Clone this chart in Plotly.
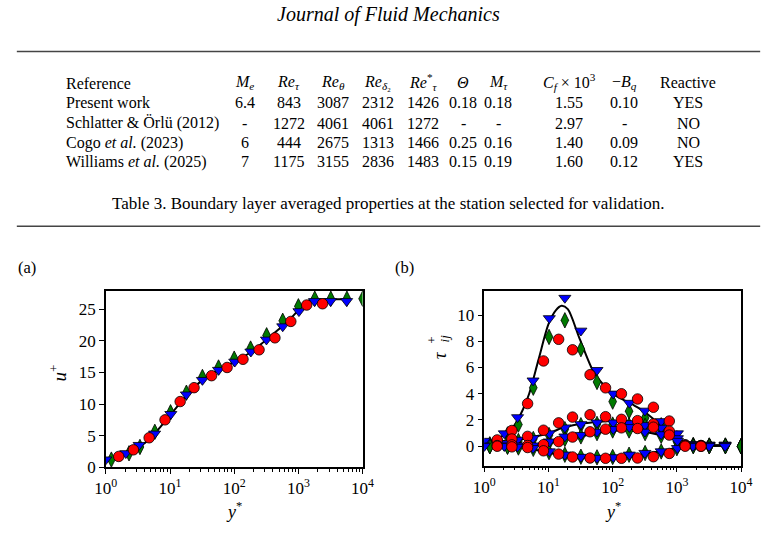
import plotly.graph_objects as go

W, H = 778, 539
FONT = "Liberation Serif"

# ---------------- table data ----------------
header = ["Reference", "<i>M<sub>e</sub></i>", "<i>Re</i><sub><i>τ</i></sub>", "<i>Re</i><sub><i>θ</i></sub>",
          "<i>Re</i><sub><i>δ</i>₂</sub>", "<i>Re</i><sup>*</sup><sub><i>τ</i></sub>", "<i>Θ</i>",
          "<i>M</i><sub><i>τ</i></sub>", "<i>C<sub>f</sub></i> × 10<sup>3</sup>", "−<i>B<sub>q</sub></i>", "Reactive"]
references = ["Present work", "Schlatter &amp; Örlü (2012)", "Cogo <i>et al.</i> (2023)", "Williams <i>et al.</i> (2025)"]
Me = ["6.4", "-", "6", "7"]
Re_tau = ["843", "1272", "444", "1175"]
Re_theta = ["3087", "4061", "2675", "3155"]
Re_delta2 = ["2312", "4061", "1313", "2836"]
Re_tau_star = ["1426", "1272", "1466", "1483"]
Theta = ["0.18", "-", "0.25", "0.15"]
M_tau = ["0.18", "-", "0.16", "0.19"]
Cf = ["1.55", "2.97", "1.40", "1.60"]
Bq = ["0.10", "-", "0.09", "0.12"]
Reactive = ["YES", "NO", "NO", "YES"]

# ---------------- panel (a) data ----------------
line_a_y = [1, 1.5, 2, 3, 4, 5, 7, 10, 15, 20, 30, 50, 70, 100, 150, 200, 300, 500, 700, 1000, 1300, 1700, 2500, 6500]
line_a_u = [1.0, 1.5, 2.0, 2.9, 3.8, 4.6, 6.3, 8.2, 10.4, 11.8, 13.6, 15.1, 15.9, 16.7, 17.7, 18.5, 20.0, 21.9, 23.2, 24.9, 26.1, 26.6, 26.6, 26.6]

red_y = [1.59, 2.69, 4.73, 8.36, 14.4, 23.7, 44.4, 77.5, 137, 244, 431, 762, 1346, 2376]
red_u = [1.7, 2.75, 4.66, 7.5, 10.4, 12.6, 14.5, 15.8, 17.1, 18.6, 20.5, 23.1, 25.7, 25.9]

green_y = [1.22, 2.3, 3.4, 5.8, 10.2, 18, 32, 57, 100, 180, 320, 570, 1000, 1800, 3200, 5700, 10000]
green_u = [1.2, 2.2, 3.2, 5.6, 8.7, 11.8, 14.3, 15.8, 17.2, 18.8, 20.9, 23.2, 25.5, 26.7, 26.7, 26.7, 26.7]

blue_y = [1, 2.05, 3.3, 5.75, 10.3, 18, 32, 57, 102, 182, 318, 570, 1020, 1780, 3170, 5640]
blue_u = [1.2, 2.2, 3.5, 5.3, 8.4, 11.5, 13.8, 15.4, 16.7, 18.3, 20.2, 22.3, 24.7, 26.3, 26.3, 26.3]

# ---------------- panel (b) data ----------------
line_b_y = [1, 1.5, 2, 3, 4, 5, 7, 10, 13, 16, 20, 30, 50, 70, 100, 200, 300, 500, 700, 1000, 1300, 1600, 2000, 6000]
line_t11 = [0.15, 0.45, 0.85, 1.65, 2.8, 4.0, 6.6, 9.3, 10.35, 10.7, 10.45, 8.3, 5.7, 4.75, 4.0, 3.2, 2.7, 1.8, 1.25, 0.65, 0.22, 0.08, 0.05, 0.05]
line_t22 = [0.35, 0.37, 0.4, 0.47, 0.55, 0.62, 0.8, 0.97, 1.2, 1.38, 1.5, 1.7, 1.82, 1.88, 1.93, 1.83, 1.65, 1.3, 1.0, 0.6, 0.2, 0.08, 0.05, 0.05]
line_t33 = [0.05, 0.05, 0.04, 0.03, 0.03, 0.04, 0.08, 0.22, 0.35, 0.45, 0.55, 0.72, 0.95, 1.08, 1.18, 1.17, 1.1, 0.9, 0.68, 0.45, 0.15, 0.07, 0.05, 0.05]
line_t12 = [0.0, 0.0, 0.0, -0.04, -0.1, -0.17, -0.32, -0.5, -0.6, -0.68, -0.74, -0.84, -0.9, -0.91, -0.9, -0.8, -0.6, -0.42, -0.3, -0.1, 0.0, 0.02, 0.03, 0.05]

red_t11 = [0.4, 1.2, 3.25, 6.5, 8.15, 7.35, 5.45, 4.45, 4.0, 3.6, 2.97, 1.92, 0.1, 0.05]
red_t22 = [0.48, 0.55, 0.75, 1.22, 1.78, 2.22, 2.4, 2.25, 2.05, 1.95, 1.7, 1.15, 0.1, 0.05]
red_t33 = [0.05, 0.1, 0.05, 0.12, 0.35, 0.7, 1.1, 1.3, 1.4, 1.35, 1.45, 0.85, 0.05, 0.0]
red_t12 = [0.0, -0.05, -0.1, -0.35, -0.6, -0.82, -0.9, -0.92, -0.92, -0.9, -0.8, -0.55, 0.0, 0.0]

green_t11 = [0.1, 0.9, 1.65, 4.46, 8.33, 9.6, 7.4, 4.9, 3.4, 2.67, 2.15, 1.6, 0.6, 0.1, 0.05, 0.05, 0.0]
green_t22 = [0.15, 0.3, 0.4, 0.55, 0.85, 1.3, 1.6, 1.7, 1.65, 1.6, 1.55, 1.3, 0.5, 0.05, 0.05, 0.05, 0.0]
green_t33 = [0.0, 0.0, 0.0, 0.0, 0.25, 0.55, 0.75, 1.0, 1.2, 1.2, 1.0, 0.8, 0.35, 0.05, 0.0, 0.0, 0.0]
green_t12 = [0.0, -0.05, -0.1, -0.2, -0.45, -0.65, -0.8, -0.85, -0.82, -0.65, -0.52, -0.4, -0.15, 0.0, 0.0, 0.0, 0.0]

blue_t11 = [0.3, 0.97, 2.2, 5.0, 9.75, 11.3, 8.8, 5.8, 4.0, 3.3, 2.7, 1.9, 0.97, 0.15, 0.1, 0.1]
blue_t22 = [0.4, 0.22, 0.48, 0.6, 0.97, 1.42, 1.67, 1.8, 1.8, 1.75, 1.6, 1.4, 0.6, 0.1, 0.1, 0.1]
blue_t33 = [0.05, 0.05, 0.05, 0.05, 0.35, 0.73, 0.85, 1.1, 1.3, 1.45, 1.1, 0.9, 0.4, 0.05, 0.05, 0.05]
blue_t12 = [0.0, 0.0, -0.05, -0.15, -0.4, -0.65, -0.82, -0.9, -0.85, -0.65, -0.52, -0.4, -0.15, 0.0, 0.0, 0.0]

x_tickvals = [1, 10, 100, 1000, 10000]
x_ticktext = ["10<sup>0</sup>", "10<sup>1</sup>", "10<sup>2</sup>", "10<sup>3</sup>", "10<sup>4</sup>"]
ya_tickvals = [0, 5, 10, 15, 20, 25]
yb_tickvals = [0, 2, 4, 6, 8, 10]


def px(x):
    return x / W


def py(y):
    return 1 - y / H


fig = go.Figure()

LINE = dict(color="black", width=2, shape="spline", smoothing=0.8)
RED = dict(symbol="circle", size=10.5, color="#ff0000", line=dict(color="black", width=0.8))
GREEN = dict(symbol="diamond-tall", size=11, color="#007a00", line=dict(color="black", width=0.8))
BLUE = dict(symbol="triangle-down", size=10.5, color="#0000ff", line=dict(color="black", width=0.8))

# panel (a)
fig.add_trace(go.Scatter(x=line_a_y, y=line_a_u, mode="lines", line=LINE, xaxis="x", yaxis="y"))
fig.add_trace(go.Scatter(x=green_y, y=green_u, mode="markers", marker=GREEN, xaxis="x", yaxis="y"))
fig.add_trace(go.Scatter(x=blue_y, y=blue_u, mode="markers", marker=BLUE, xaxis="x", yaxis="y"))
fig.add_trace(go.Scatter(x=red_y, y=red_u, mode="markers", marker=RED, xaxis="x", yaxis="y"))

# panel (b)
for ly in (line_t11, line_t22, line_t33, line_t12):
    fig.add_trace(go.Scatter(x=line_b_y, y=ly, mode="lines", line=LINE, xaxis="x2", yaxis="y2"))
for vals in (green_t11, green_t22, green_t33, green_t12):
    fig.add_trace(go.Scatter(x=green_y, y=vals, mode="markers", marker=GREEN, xaxis="x2", yaxis="y2"))
for vals in (blue_t11, blue_t22, blue_t33, blue_t12):
    fig.add_trace(go.Scatter(x=blue_y, y=vals, mode="markers", marker=BLUE, xaxis="x2", yaxis="y2"))
for vals in (red_t11, red_t22, red_t33, red_t12):
    fig.add_trace(go.Scatter(x=red_y, y=vals, mode="markers", marker=RED, xaxis="x2", yaxis="y2"))

minor_vals = [m * 10 ** e for e in range(0, 4) for m in range(2, 10)]

xcommon = dict(type="log", range=[0, 4], showgrid=False, zeroline=False, showline=True, mirror=True,
               linecolor="black", linewidth=1.5, ticks="outside", ticklen=5, tickwidth=1, tickcolor="black",
               tickvals=x_tickvals, ticktext=x_ticktext,
               tickfont=dict(family=FONT, size=17, color="black"),
               minor=dict(ticks="outside", ticklen=3, tickwidth=1, tickcolor="black",
                          tickmode="array", tickvals=minor_vals, showgrid=False))
ycommon = dict(showgrid=False, zeroline=False, showline=True, mirror=True, linecolor="black", linewidth=1.5,
               ticks="outside", ticklen=5, tickwidth=1, tickcolor="black",
               tickfont=dict(family=FONT, size=17, color="black"))

fig.update_layout(
    width=W, height=H, margin=dict(l=0, r=0, t=0, b=0),
    paper_bgcolor="white", plot_bgcolor="white", showlegend=False,
    xaxis=dict(domain=[px(97.7), px(362.3)], anchor="y", **xcommon),
    yaxis=dict(domain=[py(476), py(296)], anchor="x", range=[0, 28], tickvals=ya_tickvals, **ycommon),
    xaxis2=dict(domain=[px(487.7), px(752.3)], anchor="y2", **xcommon),
    yaxis2=dict(domain=[py(474.3), py(296)], anchor="x2", range=[-1.47, 11.87], tickvals=yb_tickvals, **ycommon),
)

ann = []


def text(x, y, s, size=16, xanchor="center", italic=False, angle=0):
    ann.append(dict(x=px(x), y=py(y), xref="paper", yref="paper", text=s, showarrow=False,
                    xanchor=xanchor, yanchor="middle", textangle=angle,
                    font=dict(family=FONT, size=size, color="black",
                              style="italic" if italic else "normal")))


# page header and table
text(389, 15, "Journal of Fluid Mechanics", size=20, italic=True)
col_x = [None, 241, 286, 332, 378, 425, 466, 502, 575, 632, 698]
row_y = [85, 104.5, 125.5, 145.5, 165]
for j, h in enumerate(header):
    if j == 0:
        text(54.5, row_y[0], h, xanchor="left")
    else:
        text(col_x[j], row_y[0] - 1, h)
columns = [Me, Re_tau, Re_theta, Re_delta2, Re_tau_star, Theta, M_tau, Cf, Bq, Reactive]
for i, ref in enumerate(references):
    text(54.5, row_y[i + 1], ref, xanchor="left")
    for j, col in enumerate(columns):
        text(col_x[j + 1], row_y[i + 1], col[i])
text(389, 207, "Table 3. Boundary layer averaged properties at the station selected for validation.", size=17)

# panel labels and axis titles
text(16, 273, "(a)", size=16.5)
text(406, 273, "(b)", size=16.5)
text(48, 380, "<i>u</i><sup>+</sup>", size=19, angle=-90)
text(230, 520, "<i>y</i><sup>*</sup>", size=18)
text(441, 362, "<i>τ</i>", size=19, angle=-90)
text(433, 347, "+", size=13, angle=-90)
text(447, 345, "<i>ij</i>", size=13, angle=-90)
text(620, 520, "<i>y</i><sup>*</sup>", size=18)

fig.update_layout(annotations=ann)

fig.update_layout(shapes=[
    dict(type="line", xref="paper", yref="paper", x0=px(6), x1=px(772), y0=py(52.5), y1=py(52.5),
         line=dict(color="#444444", width=1.5)),
    dict(type="line", xref="paper", yref="paper", x0=px(6), x1=px(772), y0=py(230.5), y1=py(230.5),
         line=dict(color="#444444", width=1.5)),
])

fig.write_html("out.html")
